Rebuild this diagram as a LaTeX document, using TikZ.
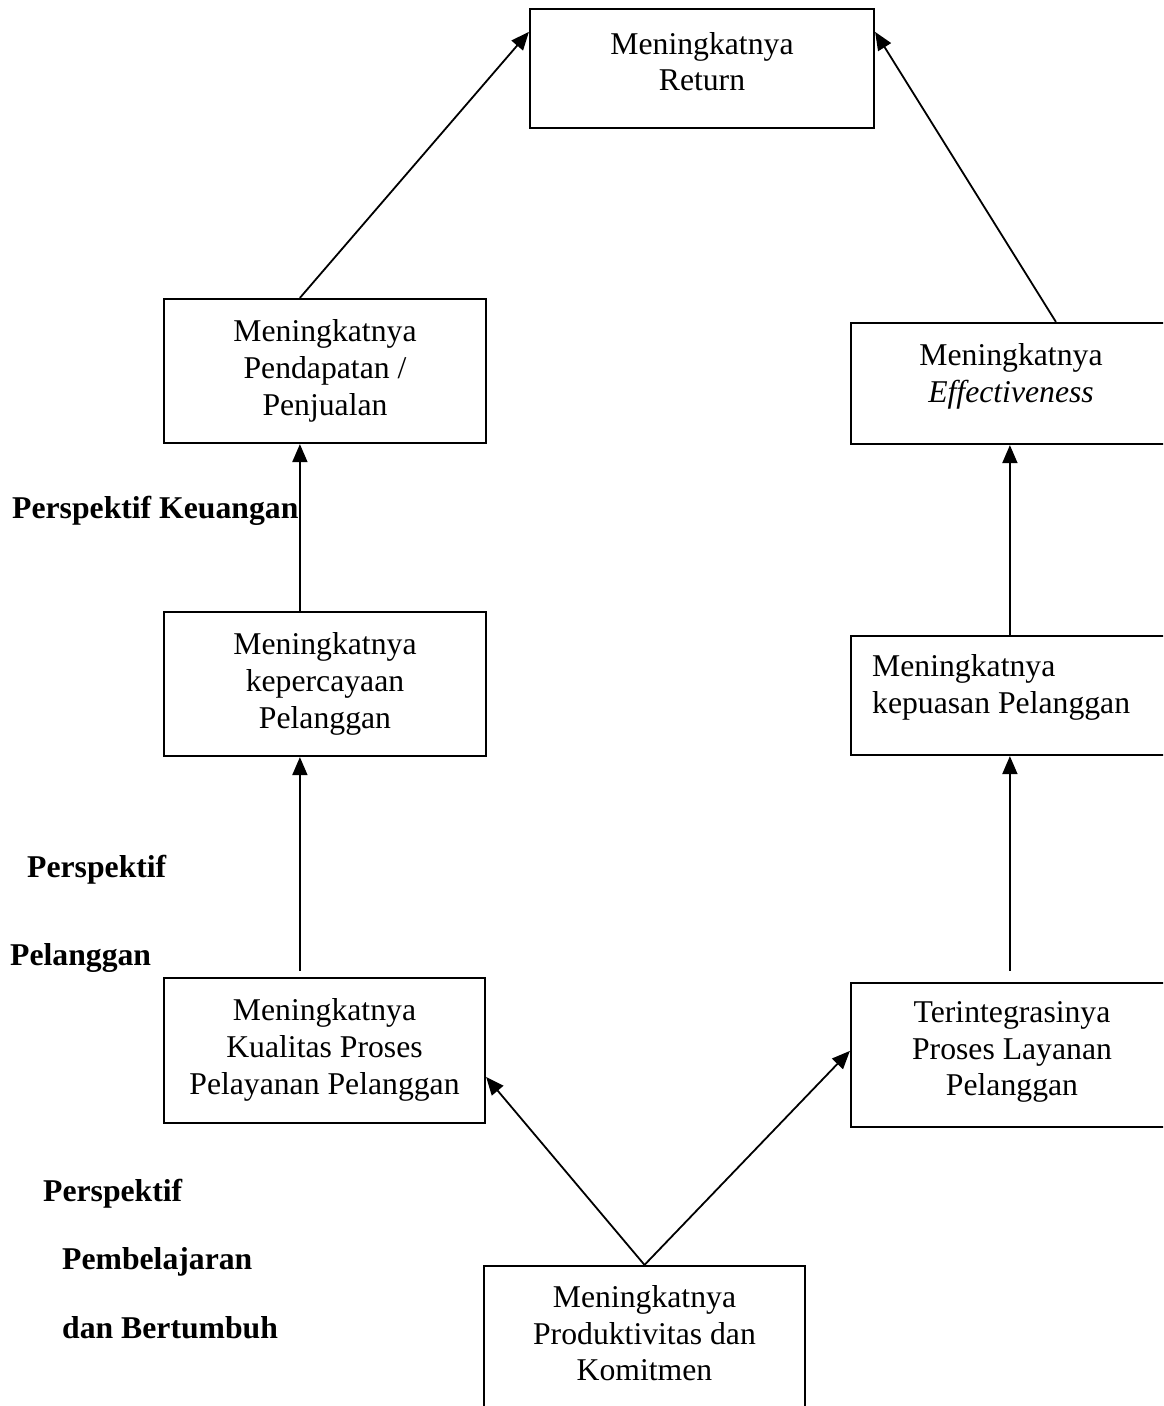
\documentclass[tikz,border=0pt]{standalone}
\usepackage{fontspec}
\setmainfont{Liberation Serif}
\usetikzlibrary{arrows.meta}
\tikzset{
  box/.style={draw=black, line width=2.2pt, rectangle, inner sep=0pt},
  boxtext/.style={anchor=north, inner sep=0pt, align=center, font=\fontsize{31.7}{36.7}\selectfont},
  boxtextleft/.style={anchor=north west, inner sep=0pt, align=left, font=\fontsize{31.7}{36.7}\selectfont},
  persp/.style={anchor=base west, inner sep=0pt, font=\fontsize{31.7}{36.7}\selectfont\bfseries},
  conn/.style={draw=black, line width=1.8pt, -{Triangle[length=18pt,width=15pt]}}
}
\begin{document}
\begin{tikzpicture}[x=1pt,y=-1pt]
\fill[white] (0,0) rectangle (1163,1406);
\clip (0,0) rectangle (1163,1406);
% boxes
\node[box, minimum width=344pt, minimum height=119pt] (ret) at (702,68.5) {};
\node[box, minimum width=322pt, minimum height=144pt] (pend) at (325,371) {};
\node[box, minimum width=321pt, minimum height=121pt] (eff) at (1011.5,383.5) {};
\node[box, minimum width=322pt, minimum height=144pt] (perc) at (325,684) {};
\node[box, minimum width=321pt, minimum height=119pt] (puas) at (1011.5,695.5) {};
\node[box, minimum width=321pt, minimum height=145pt] (kual) at (324.5,1050.5) {};
\node[box, minimum width=321pt, minimum height=144pt] (integ) at (1011.5,1055) {};
\node[box, minimum width=321pt, minimum height=154pt] (prod) at (644.5,1343) {};
% box texts
\node[boxtext] (tret) at (702,32) {Meningkatnya\\Return};
\node[boxtext] (tpend) at (325,319.5) {Meningkatnya\\Pendapatan /\\Penjualan};
\node[boxtext] (teff) at (1011,343.3) {Meningkatnya\\\textit{Effectiveness}};
\node[boxtext] (tperc) at (325,632.5) {Meningkatnya\\kepercayaan\\Pelanggan};
\node[boxtextleft] (tpuas) at (872,654.3) {Meningkatnya\\kepuasan Pelanggan};
\node[boxtext] (tkual) at (324.5,998.5) {Meningkatnya\\Kualitas Proses\\Pelayanan Pelanggan};
\node[boxtext] (tinteg) at (1012,1001.3) {Terintegrasinya\\Proses Layanan\\Pelanggan};
\node[boxtext] (tprod) at (644.5,1285.3) {Meningkatnya\\Produktivitas dan\\Komitmen};
% perspective labels
\node[persp] (p1) at (12,518) {Perspektif Keuangan};
\node[persp] (p2) at (27,877) {Perspektif};
\node[persp] (p3) at (10,965) {Pelanggan};
\node[persp] (p4) at (43,1201) {Perspektif};
\node[persp] (p5) at (62,1269) {Pembelajaran};
\node[persp] (p6) at (62,1338) {dan Bertumbuh};
% connectors
\draw[conn] ([xshift=137pt]pend.north west) -- ([yshift=-24pt]ret.north west);
\draw[conn] ([xshift=206pt]eff.north west) -- ([yshift=-24pt]ret.north east);
\draw[conn] ([xshift=137pt]perc.north west) -- ([xshift=137pt]pend.south west);
\draw[conn] ([xshift=137pt,yshift=6pt]kual.north west) -- ([xshift=137pt]perc.south west);
\draw[conn] ([xshift=160pt]puas.north west) -- ([xshift=160pt]eff.south west);
\draw[conn] ([xshift=160pt,yshift=11pt]integ.north west) -- ([xshift=160pt]puas.south west);
\draw[conn] (prod.north) -- ([yshift=-100pt]kual.north east);
\draw[conn] (prod.north) -- ([yshift=-69pt]integ.north west);
\end{tikzpicture}
\end{document}
